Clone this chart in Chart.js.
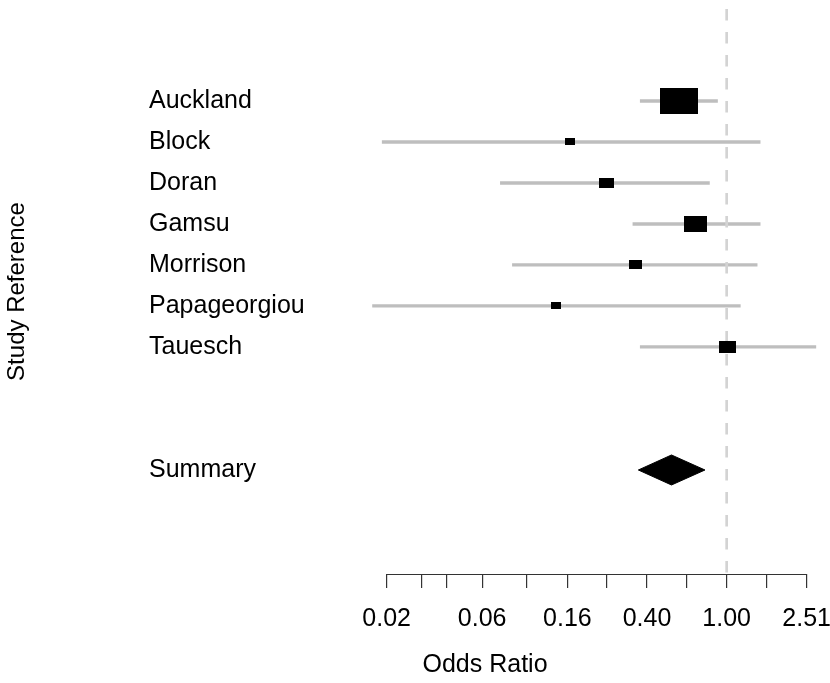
<!DOCTYPE html>
<html>
<head>
<meta charset="utf-8">
<title>Forest plot</title>
<script src="https://cdn.jsdelivr.net/npm/chart.js@4.4.1/dist/chart.umd.min.js"></script>
<style>
  html, body { margin: 0; padding: 0; background: #fff; }
  canvas { display: block; }
</style>
</head>
<body>
<canvas id="forestChart" width="830" height="683"></canvas>
<script>
// Study odds ratios with 95% confidence limits
const studies = ['Auckland', 'Block', 'Doran', 'Gamsu', 'Morrison', 'Papageorgiou', 'Tauesch'];
const oddsRatio = [0.58, 0.165, 0.25, 0.70, 0.35, 0.14, 1.01];
const lowerCI = [0.37, 0.019, 0.074, 0.34, 0.085, 0.017, 0.37];
const upperCI = [0.90, 1.47, 0.82, 1.47, 1.42, 1.17, 2.79];
// relative study weights (box size)
const weights = [1.0, 0.26, 0.38, 0.60, 0.33, 0.26, 0.46];

// pooled estimate
const summaryLabel = 'Summary';
const summaryOR = 0.53;
const summaryCI = [0.362, 0.779];

// x axis ticks
const majorTicks = [0.02, 0.06, 0.16, 0.40, 1.00, 2.51];
const majorLabels = ['0.02', '0.06', '0.16', '0.40', '1.00', '2.51'];
const minorTicks = [0.03, 0.04, 0.10, 0.25, 0.63, 1.58];

const studyRows = studies.map((s, i) => i + 1);
const summaryRow = 10;
const labelRows = [...studyRows, summaryRow];
const rowNames = [...studies, summaryLabel];
const allTicks = [...majorTicks, ...minorTicks].sort((a, b) => a - b);

const xMin = 0.00124, xMax = 3.1;
const yMin = -1.244, yMax = 12.537;
const diamondHalf = 0.366;

Chart.defaults.font.family = "'Liberation Sans', Arial, Helvetica, sans-serif";
Chart.defaults.font.size = 25;
Chart.defaults.color = '#000';

// black boxes, height scaled by weight
const boxes = weights.map(w => {
    const h = Math.max(6, Math.round(w * 26));
    const c = document.createElement('canvas');
    c.width = Math.round(h * 1.45);
    c.height = h;
    const g = c.getContext('2d');
    g.fillStyle = '#000';
    g.fillRect(0, 0, c.width, c.height);
    return c;
});

// axis line only between the outer ticks
const axisLine = {
    id: 'axisLine',
    afterDraw(chart) {
        const xs = chart.scales.x;
        const ctx = chart.ctx;
        const y = Math.round(chart.chartArea.bottom) + 0.5;
        ctx.save();
        ctx.strokeStyle = '#333';
        ctx.lineWidth = 1.2;
        ctx.beginPath();
        ctx.moveTo(xs.getPixelForValue(allTicks[0]), y);
        ctx.lineTo(xs.getPixelForValue(allTicks[allTicks.length - 1]), y);
        ctx.stroke();
        ctx.restore();
    }
};

const ctx = document.getElementById('forestChart').getContext('2d');
new Chart(ctx, {
    type: 'scatter',
    data: {
        datasets: [
            {
                // confidence intervals
                type: 'bar',
                indexAxis: 'y',
                data: studyRows.map((r, i) => ({ y: r, x: [lowerCI[i], upperCI[i]] })),
                backgroundColor: '#bebebe',
                borderWidth: 0,
                barThickness: 2.6,
                grouped: false,
                order: 3
            },
            {
                // line of no effect
                type: 'line',
                data: [{ x: 1, y: yMin }, { x: 1, y: yMax }],
                borderColor: '#d3d3d3',
                borderWidth: 2.7,
                borderDash: [11.5, 11.5],
                pointRadius: 0,
                order: 2
            },
            {
                // point estimates
                type: 'scatter',
                data: studyRows.map((r, i) => ({ x: oddsRatio[i], y: r })),
                pointStyle: c => boxes[c.dataIndex],
                pointRadius: 3,
                order: 1
            },
            {
                // summary diamond
                type: 'line',
                data: [
                    { x: summaryCI[0], y: summaryRow },
                    { x: summaryOR, y: summaryRow - diamondHalf },
                    { x: summaryCI[1], y: summaryRow },
                    { x: summaryOR, y: summaryRow + diamondHalf },
                    { x: summaryCI[0], y: summaryRow }
                ],
                fill: 'shape',
                backgroundColor: '#000',
                borderColor: '#000',
                borderWidth: 1,
                pointRadius: 0,
                tension: 0,
                order: 1
            }
        ]
    },
    options: {
        responsive: false,
        animation: false,
        events: [],
        devicePixelRatio: 1,
        layout: { padding: { top: 9, right: 5, left: 0, bottom: 0 } },
        plugins: {
            legend: { display: false },
            tooltip: { enabled: false }
        },
        scales: {
            x: {
                type: 'logarithmic',
                min: xMin,
                max: xMax,
                offset: false,
                afterBuildTicks: s => { s.ticks = allTicks.map(v => ({ value: v })); },
                afterFit: s => { s.height = 109; s.paddingLeft = 0; s.paddingRight = 0; },
                grid: { drawOnChartArea: false, drawTicks: true, tickLength: 14, color: '#333', lineWidth: 1.2, offset: false },
                border: { display: false },
                ticks: {
                    autoSkip: false,
                    maxRotation: 0,
                    padding: 16.5,
                    callback: v => {
                        const k = majorTicks.indexOf(v);
                        return k >= 0 ? majorLabels[k] : '';
                    }
                },
                title: { display: true, text: 'Odds Ratio', padding: { top: 0, bottom: 3 } }
            },
            y: {
                type: 'linear',
                reverse: true,
                min: yMin,
                max: yMax,
                offset: false,
                afterBuildTicks: s => { s.ticks = labelRows.map(v => ({ value: v })); },
                afterFit: s => { s.width = 145; s.paddingTop = 0; s.paddingBottom = 0; },
                grid: { display: false, drawTicks: false, offset: false },
                border: { display: false },
                ticks: {
                    mirror: true,
                    padding: 4,
                    autoSkip: false,
                    callback: v => {
                        const k = labelRows.indexOf(v);
                        return k >= 0 ? rowNames[k] : '';
                    }
                },
                title: { display: true, text: 'Study Reference', font: { size: 24 }, padding: { top: 2.6, bottom: 0 } }
            }
        }
    },
    plugins: [axisLine]
});
</script>
</body>
</html>
